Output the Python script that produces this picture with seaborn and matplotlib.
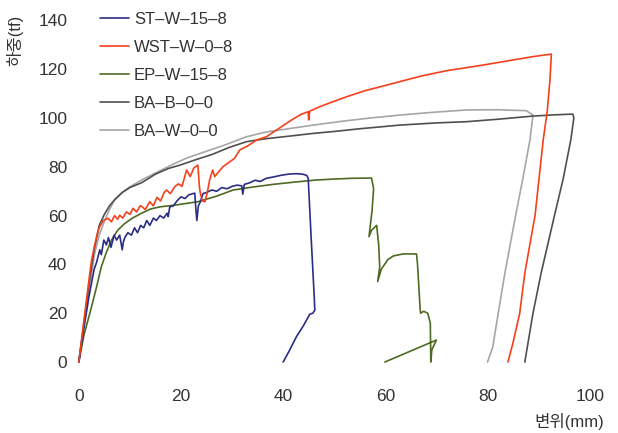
# load-displacement curves for five specimens

import matplotlib
matplotlib.use('Agg')
import matplotlib.pyplot as plt
import pandas as pd
import seaborn as sb

# data (displacement mm, load tf)
st_x = [0, 1.0, 2.0, 3.0, 3.5, 4.1, 4.4, 4.9, 5.4, 5.8, 6.3, 6.9, 7.4, 8.0, 8.5, 8.7, 9.0, 9.6, 10.3, 10.9,
        11.5, 12.1, 12.7, 13.3, 13.9, 14.6, 15.2, 15.9, 16.6, 17.3, 17.5, 17.8, 18.5, 19.2, 20.0, 20.8, 21.5,
        22.3, 22.7, 22.9, 23.1, 23.4, 23.8, 24.3, 25.0, 26.0, 27.0, 28.0, 29.0, 30.0, 31.0, 31.9, 32.1, 32.4,
        33.5, 34.5, 35.5, 36.7, 38.0, 39.5, 41.0, 42.5, 43.8, 44.6, 44.9, 45.5, 46.0, 46.2, 45.8, 45.2, 44.0,
        42.6, 41.3, 40.0]
st_y = [0, 14, 27, 38, 41, 46, 44, 50, 48, 51, 47, 52, 50, 52, 46, 49, 51, 53, 52, 55,
        53, 56, 55, 58, 56, 59, 58, 60, 59, 61, 59.6, 63.6, 64, 66, 67.7, 67, 68.5,
        69, 69.2, 63, 58, 64, 65.7, 69, 69.5, 70.5, 70, 71.5, 71, 72, 72.5, 72.2, 68.8, 72.8,
        73.5, 74.5, 74, 75.3, 75.8, 76.5, 77, 77.2, 77, 76.5, 75.3, 50, 30, 21.3, 20, 19.6, 15,
        10.4, 5, 0]

wst_x = [0, 1.0, 2.15, 2.5, 3.1, 3.8, 4.1, 4.8, 5.7, 6.4, 7.0, 7.6, 8.0, 8.6, 9.3, 10.0, 10.6, 11.3, 12.0,
         12.3, 13.0, 13.9, 14.6, 15.3, 16.0, 16.7, 17.2, 17.9, 18.8, 19.5, 20.2, 21.1, 21.8, 22.5, 23.3, 23.6,
         23.8, 24.2, 24.7, 25.2, 25.6, 26.2, 26.6, 27.2, 28.2, 29.5, 30.5, 31.5, 33.0, 34.8, 36.7, 39.0, 41.5,
         43.5, 44.9, 45.0, 45.2, 47.0, 49.5, 52.4, 56.0, 59.0, 62.8, 67.0, 72.0, 79.1, 85.0, 89.0, 92.5, 92.2,
         91.7, 90.9, 89.3, 87.3, 86.3, 85.0, 84.0]
wst_y = [0, 17, 36.4, 41.8, 48, 54, 55.5, 58, 58.9, 57.5, 60, 58.5, 60.2, 59, 61.5, 60.5, 63, 61.5, 64,
         63.8, 62.5, 65.7, 64, 67.5, 66, 69.5, 70.5, 69, 71.9, 73, 72, 78.7, 76, 79.5, 80.7, 72,
         69, 66, 65.7, 70, 74.6, 78.7, 76, 77.5, 80, 82, 83.5, 86.9, 88.5, 91, 92.3, 95.5, 99,
         101.5, 102.6, 99.2, 102.8, 104.5, 106.5, 108.7, 111.2, 112.8, 114.9, 117.2, 119.4, 121.7, 123.8, 125.2, 126.2, 115,
         103, 91, 60, 36.5, 20, 8, 0]

ep_x = [0, 1.0, 2.5, 3.5, 4.4, 5.4, 6.4, 7.6, 9.0, 10.5, 12.3, 14.0, 15.9, 18.8, 23.3, 27.0, 30.2, 34.0,
        38.0, 42.0, 46.5, 50.0, 53.5, 57.3, 57.7, 57.4, 56.8, 57.3, 58.3, 58.7, 58.9, 58.5, 59.2, 60.5, 61.6,
        63.5, 66.1, 66.3, 66.8, 66.9, 67.5, 68.3, 68.8, 68.9, 69.1, 70.0, 59.9]
ep_y = [0, 11, 22.7, 31, 39, 45, 50, 54, 56.8, 59, 61, 62.7, 63.6, 64.3, 65.7, 68, 70.5, 71.7,
        72.8, 73.7, 74.6, 75, 75.3, 75.4, 71, 62, 51.4, 54, 56, 48, 39, 33, 38, 42, 43.5,
        44.3, 44.3, 40, 22, 20, 20.8, 20, 16, 0, 5, 9, 0]

bab_x = [0, 1.0, 2.0, 3.0, 4.0, 5.0, 6.0, 7.0, 8.5, 10.0, 12.3, 15.0, 17.5, 19.8, 23.0, 26.0, 29.5, 32.8,
         36.5, 40.0, 45.9, 50.0, 55.0, 62.8, 70.0, 75.9, 82.0, 88.9, 93.0, 96.7, 96.9, 96.3, 94.8, 93.1, 90.5,
         88.9, 87.3]
bab_y = [0, 16, 32, 46, 56, 60.5, 64, 66.5, 69.5, 71.5, 73.5, 77, 79.3, 80.7, 83, 85, 88, 90.3,
         91.5, 92.3, 93.7, 94.5, 95.6, 97.1, 98, 98.5, 99.5, 100.8, 101.3, 101.6, 100, 91, 75, 60, 36.5,
         20, 0]

baw_x = [0, 0.2, 1.0, 2.0, 3.1, 4.0, 5.1, 6.0, 7.0, 8.5, 10.0, 12.3, 15.0, 18.8, 21.0, 24.7, 28.0, 32.8,
         36.7, 40.0, 45.9, 52.0, 57.0, 62.8, 69.0, 75.9, 82.0, 87.6, 88.9, 88.3, 86.9, 85.5, 83.4, 81.0, 80.5,
         80.0]
baw_y = [0, 3.6, 15, 29, 44.5, 52, 58.2, 62.5, 66.4, 69.5, 71.8, 74.6, 77.5, 81.4, 83.5, 86.2, 88.5, 92.3,
         94.3, 95.3, 97.1, 98.8, 100, 101.2, 102.3, 103.3, 103.4, 103, 101.2, 91, 75, 60, 36.5, 6, 3,
         0]

names = ['ST–W–15–8', 'WST–W–0–8', 'EP–W–15–8', 'BA–B–0–0', 'BA–W–0–0']
colors = ['#2a2d84', '#f5401c', '#4d6b22', '#4f4f4f', '#a6a6a6']
series = [(st_x, st_y), (wst_x, wst_y), (ep_x, ep_y), (bab_x, bab_y), (baw_x, baw_y)]

frames = []
for name, (xs, ys) in zip(names, series):
    frames.append(pd.DataFrame({'disp': xs, 'load': ys, 'specimen': name}))
df = pd.concat(frames, ignore_index=True)

sb.set_style('white')
plt.rcParams['font.family'] = ['Liberation Sans', 'Noto Sans CJK KR', 'DejaVu Sans']
txt = '#333333'

fig = plt.figure(figsize=(6.18, 4.33), dpi=100)
ax = fig.add_axes([0.111, 0.147, 0.868, 0.834])

# draw the gray ones first so the colored curves sit on top
draw_order = [4, 3, 2, 0, 1]
for i in draw_order:
    sub = df[df['specimen'] == names[i]]
    sb.lineplot(data=sub, x='disp', y='load', sort=False, estimator=None, color=colors[i],
                lw=1.2, ax=ax, label=names[i])

ax.set_xlim(-2, 103)
ax.set_ylim(-3, 145)
ax.set_xticks(range(0, 101, 20))
ax.set_yticks(range(0, 141, 20))
ax.tick_params(length=0, labelsize=12.5, colors=txt)
ax.tick_params(axis='x', pad=14)
ax.tick_params(axis='y', pad=1)
sb.despine(ax=ax, left=True, bottom=True)
ax.set_xlabel('')
ax.set_ylabel('')

handles, labels = ax.get_legend_handles_labels()
lookup = dict(zip(labels, handles))
ax.legend([lookup[n] for n in names], names, loc='upper left', bbox_to_anchor=(0.148, 0.992),
          bbox_transform=fig.transFigure, frameon=False, fontsize=12, labelcolor=txt,
          handlelength=1.75, handletextpad=0.3, labelspacing=0.78, borderpad=0)

fig.text(0.978, 1 - 421 / 433, '변위(mm)', ha='right', va='center', fontsize=12, color=txt)
fig.text(15 / 618, 1 - 40 / 433, '하중(tf)', ha='center', va='center', rotation=90, fontsize=12, color=txt)

plt.savefig('out.png', dpi=100)
